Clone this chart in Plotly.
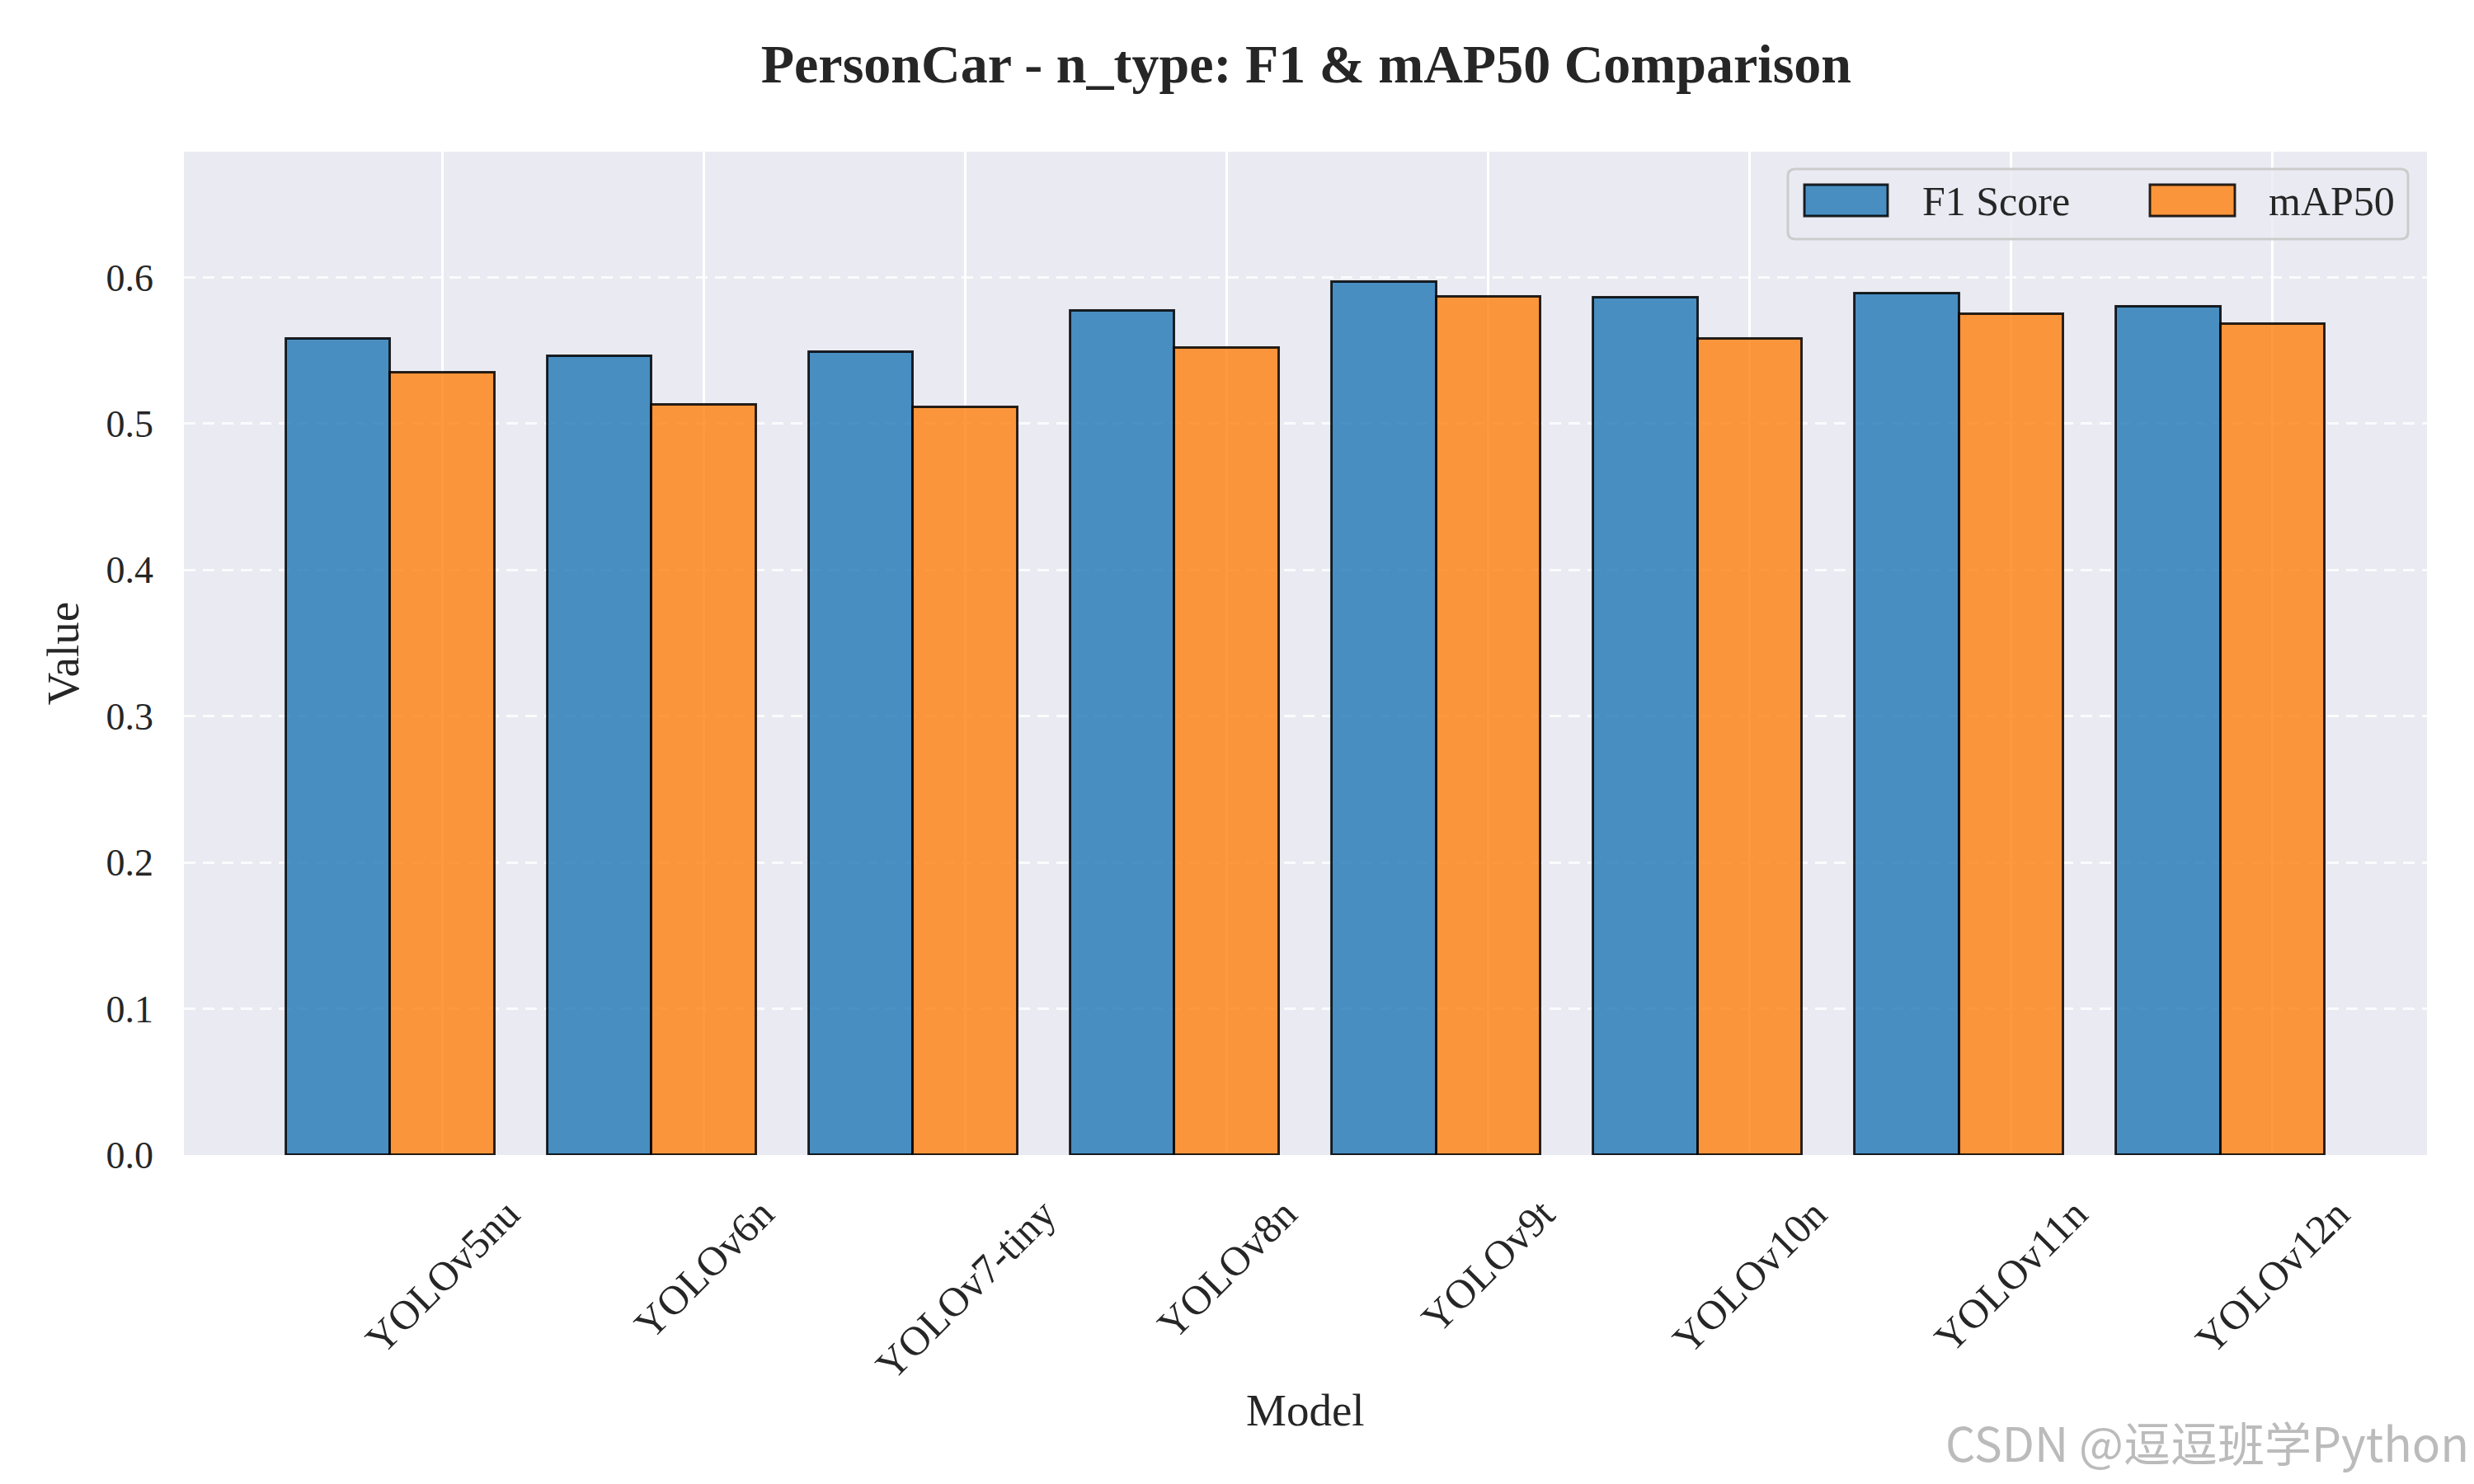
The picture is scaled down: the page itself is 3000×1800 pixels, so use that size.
import plotly.graph_objects as go

models = ["YOLOv5nu", "YOLOv6n", "YOLOv7-tiny", "YOLOv8n", "YOLOv9t", "YOLOv10n", "YOLOv11n", "YOLOv12n"]
f1_scores = [0.558, 0.546, 0.549, 0.577, 0.597, 0.586, 0.589, 0.580]
map50 = [0.535, 0.513, 0.511, 0.552, 0.587, 0.558, 0.575, 0.568]
y_ticks = [0.0, 0.1, 0.2, 0.3, 0.4, 0.5, 0.6]
series_names = ["F1 Score", "mAP50"]
series_colors = ["rgba(31,119,180,0.8)", "rgba(255,127,14,0.8)"]

W, H = 3000, 1800
L, R, T, B = 215, 65, 176, 407
PW, PH = W - L - R, H - T - B
bar_w = 0.4
idx = list(range(len(models)))

FONT = "Times New Roman, Liberation Serif, serif"
EDGE = "rgba(0,0,0,0.85)"


def px(xp):
    return (xp - L) / PW


def py(yp):
    return 1 - (yp - T) / PH


fig = go.Figure()
for s, (name, vals, col) in enumerate(zip(series_names, [f1_scores, map50], series_colors)):
    off = -bar_w / 2 if s == 0 else bar_w / 2
    fig.add_trace(go.Bar(
        x=[i + off for i in idx], y=vals, width=bar_w, name=name,
        marker=dict(color=col, line=dict(color=EDGE, width=2.9)),
        showlegend=False,
    ))

annotations = []
for i, m in zip(idx, models):
    annotations.append(dict(
        x=i + bar_w / 2, xref="x", y=0, yref="paper", yshift=-40,
        text=m, showarrow=False, textangle=-45, xanchor="center", yanchor="top",
        font=dict(family=FONT, size=50, color="#262626"),
    ))
annotations.append(dict(
    x=0.5, xref="paper", y=0, yref="paper", yshift=-309, text="Model", showarrow=False,
    xanchor="center", yanchor="middle", font=dict(family=FONT, size=55, color="#262626"),
))
annotations.append(dict(
    x=1.0195, xref="paper", y=0, yref="paper", yshift=-347, text="CSDN @逗逗班学Python",
    showarrow=False, xanchor="right", yanchor="middle",
    font=dict(family="Noto Sans CJK SC, sans-serif", size=57, color="rgba(175,175,175,0.85)"),
))

# legend (drawn as shapes + text to get matplotlib-style wide swatches)
shapes = []
bx0, bx1, by0, by1 = px(2160), px(2912), py(282), py(197)
rx, ry = 9 / PW, 9 / PH
path = (f"M {bx0+rx},{by1} L {bx1-rx},{by1} Q {bx1},{by1} {bx1},{by1-ry} "
        f"L {bx1},{by0+ry} Q {bx1},{by0} {bx1-rx},{by0} L {bx0+rx},{by0} "
        f"Q {bx0},{by0} {bx0},{by0+ry} L {bx0},{by1-ry} Q {bx0},{by1} {bx0+rx},{by1} Z")
shapes.append(dict(type="path", xref="paper", yref="paper", path=path,
                   fillcolor="rgba(234,234,242,0.8)", line=dict(color="#CCCCCC", width=3)))
sw_x = [(2180, 2281), (2599, 2702)]
txt_x = [2321, 2741]
for (x0, x1), tx, name, col in zip(sw_x, txt_x, series_names, series_colors):
    shapes.append(dict(type="rect", xref="paper", yref="paper",
                       x0=px(x0), x1=px(x1), y0=py(254), y1=py(216),
                       fillcolor=col, line=dict(color=EDGE, width=2.9)))
    annotations.append(dict(x=px(tx), xref="paper", y=py(236), yref="paper", text=name,
                            showarrow=False, xanchor="left", yanchor="middle",
                            font=dict(family=FONT, size=50, color="#262626")))

fig.update_layout(
    width=W, height=H,
    margin=dict(l=L, r=R, t=T, b=B),
    paper_bgcolor="white", plot_bgcolor="#EAEAF2",
    barmode="overlay", bargap=0,
    font=dict(family=FONT, size=46, color="#262626"),
    title=dict(text="<b>PersonCar - n_type: F1 & mAP50 Comparison</b>", x=0.5253, xanchor="center",
               y=1 - 69 / H, yanchor="middle", font=dict(family=FONT, size=66, color="#262626")),
    annotations=annotations,
    shapes=shapes,
    showlegend=False,
)
fig.update_xaxes(
    range=[-0.79, len(models) - 1 + 0.79],
    tickvals=[i + bar_w / 2 for i in idx], ticktext=models, showticklabels=False,
    showgrid=True, gridcolor="white", gridwidth=3, zeroline=False, showline=False, ticks="",
)
fig.update_yaxes(
    range=[0, 0.686], tickvals=y_ticks, ticktext=[f"{v:.1f}" for v in y_ticks],
    showgrid=True, gridcolor="rgba(255,255,255,0.8)", gridwidth=3, griddash="14px,9px",
    zeroline=False, showline=False, ticks="", ticklabelstandoff=36,
    title=dict(text="Value", standoff=15, font=dict(family=FONT, size=55, color="#262626")),
    tickfont=dict(family=FONT, size=46, color="#262626"),
)

fig.write_html("out.html")
